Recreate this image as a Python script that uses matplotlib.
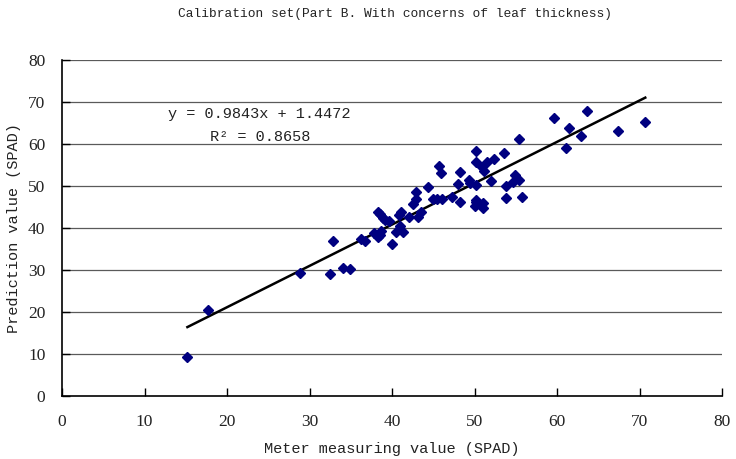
import matplotlib
matplotlib.use("Agg")
import matplotlib.pyplot as plt
import numpy as np

meter = [15.2, 17.7, 28.8, 32.5, 32.9, 34.1, 34.9, 36.3, 36.7, 37.8, 38.3, 38.5, 38.7,
         38.3, 38.6, 38.9, 39.2, 39.6, 40.0, 40.5, 41.0, 41.3, 40.8, 41.1, 42.0, 43.1,
         43.5, 42.5, 42.9, 42.9, 44.4, 45.0, 45.4, 46.1, 45.7, 45.9, 47.3, 48.2, 48.0,
         48.2, 49.3, 49.5, 50.2, 50.1, 50.2, 50.2, 51.0, 51.0, 50.2, 50.2, 50.9, 51.2,
         51.5, 52.0, 52.4, 53.6, 53.8, 53.8, 54.9, 54.7, 55.4, 55.7, 55.4, 59.6, 61.4,
         61.1, 62.9, 63.6, 67.4, 70.7]
predicted = [9.3, 20.5, 29.4, 29.0, 37.0, 30.5, 30.2, 37.5, 36.9, 38.9, 37.8, 38.3, 39.4,
             43.9, 43.3, 42.5, 41.9, 41.7, 36.1, 39.1, 40.5, 39.1, 43.1, 43.7, 42.7, 42.7,
             43.9, 45.6, 46.8, 48.5, 49.8, 47.0, 46.9, 47.0, 54.8, 53.2, 47.3, 46.3, 50.5,
             53.3, 51.4, 50.6, 50.2, 45.3, 46.7, 46.1, 46.0, 44.8, 58.3, 55.6, 54.6, 53.6,
             55.8, 51.2, 56.4, 57.8, 50.0, 47.1, 52.6, 50.9, 51.4, 47.3, 61.2, 66.3, 63.9,
             59.1, 62.0, 67.9, 63.2, 65.3]
slope = 0.9843
intercept = 1.4472
r2 = 0.8658
x_ticks = [0, 10, 20, 30, 40, 50, 60, 70, 80]
y_ticks = [0, 10, 20, 30, 40, 50, 60, 70, 80]

FONT = "Liberation Mono"
TICKFONT = "Liberation Serif"
plt.rcParams["font.family"] = [FONT, "DejaVu Sans"]

fig = plt.figure(figsize=(7.36, 4.59), dpi=100)
ax = fig.add_axes([62/736, 1-396/459, 660/736, 336/459])

for y in y_ticks[1:]:
    ax.axhline(y, color="#5a5a5a", lw=0.9, zorder=1)

ax.plot(meter, predicted, linestyle="none", marker="D", markersize=4.6,
        color="#000080", zorder=3)

xl = np.array([min(meter), max(meter)])
ax.plot(xl, slope*xl + intercept, color="black", lw=1.8, zorder=2)

ax.set_xlim(0, 80)
ax.set_ylim(0, 80)
ax.set_xticks(x_ticks)
ax.set_yticks(y_ticks)
ax.set_xticklabels([str(t) for t in x_ticks], fontsize=12.5, family=TICKFONT,
                   color="#222222")
ax.set_yticklabels([str(t) for t in y_ticks], fontsize=12.5, family=TICKFONT,
                   color="#222222")
ax.tick_params(axis="x", direction="in", length=6, width=1, color="black", pad=13)
ax.tick_params(axis="y", direction="in", length=6, width=1, color="black", pad=12)
for s in ["top", "right"]:
    ax.spines[s].set_visible(False)
for s in ["left", "bottom"]:
    ax.spines[s].set_linewidth(1.2)

fig.text(168/736, 1-114/459, f"y = {slope}x + {intercept}", fontsize=11,
         va="center", ha="left", color="#222222")
fig.text(210/736, 1-137/459, f"R\u00b2 = {r2}", fontsize=11,
         va="center", ha="left", color="#222222")

fig.text(395/736, 1-14/459, "Calibration set(Part B. With concerns of leaf thickness)",
         fontsize=9.3, ha="center", va="center", color="#222222")
fig.text(392/736, 1-449/459, "Meter measuring value (SPAD)", fontsize=11,
         ha="center", va="center", color="#222222")
fig.text(14/736, 1-228/459, "Prediction value (SPAD)", fontsize=11, rotation=90,
         ha="center", va="center", color="#222222")

fig.savefig("out.png", dpi=100)
